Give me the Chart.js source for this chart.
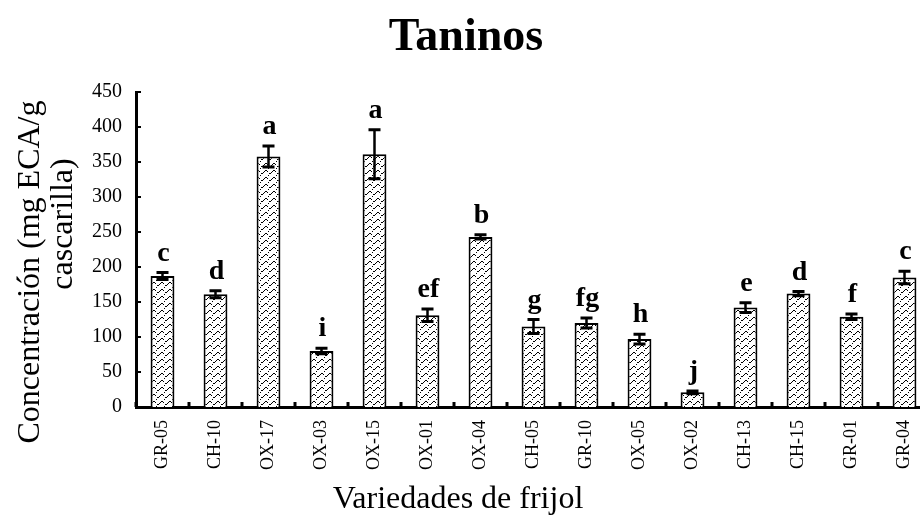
<!DOCTYPE html>
<html>
<head>
<meta charset="utf-8">
<script src="https://cdn.jsdelivr.net/npm/chart.js@4.4.1/dist/chart.umd.min.js"></script>
<style>
html,body{margin:0;padding:0;background:#fff;overflow:hidden;width:920px;height:523px;}
canvas{display:block;}
</style>
</head>
<body>
<canvas id="c" width="940" height="523"></canvas>
<script>
const categories = ['GR-05','CH-10','OX-17','OX-03','OX-15','OX-01','OX-04','CH-05','GR-10','OX-05','OX-02','CH-13','CH-15','GR-01','GR-04'];
const values = [187,161,358,80,361,131,243,115,120,97,21,142,162,129,185];
const errors = [5,5,15,4,35,9,3,10,7,7,2,7,3,4,9];
const letters = ['c','d','a','i','a','ef','b','g','fg','h','j','e','d','f','c'];
const yMin = 0, yMax = 450, yStep = 50;
const titleText = 'Taninos';
const yTitleLines = ['Concentración (mg ECA/g','cascarilla)'];
const xTitleText = 'Variedades de frijol';

const SERIF = "'Liberation Serif','Times New Roman',serif";

function makePattern(){
  const t = document.createElement('canvas');
  t.width = 8; t.height = 7;
  const g = t.getContext('2d');
  g.fillStyle = '#fff'; g.fillRect(0,0,8,7);
  g.fillStyle = '#000';
  const ys = [3,2,2,3,4,5,5,4];
  for (let x=0;x<8;x++){
    if (x===4) continue;
    g.fillRect(x, ys[x], 1, 1);
  }
  g.fillRect(4, 0, 1, 1);
  return document.getElementById('c').getContext('2d').createPattern(t,'repeat');
}

const overlay = {
  id:'overlay',
  afterDatasetsDraw(chart){
    const ctx = chart.ctx;
    const xs = chart.scales.x, ys = chart.scales.y;
    ctx.save();
    ctx.strokeStyle = '#000';
    ctx.lineCap = 'butt';
    values.forEach((v,i)=>{
      const cx = xs.getPixelForValue(i);
      const yt = ys.getPixelForValue(v+errors[i]);
      const yb = ys.getPixelForValue(v-errors[i]);
      ctx.lineWidth = 2.5;
      ctx.beginPath(); ctx.moveTo(cx,yt); ctx.lineTo(cx,yb); ctx.stroke();
      ctx.lineWidth = 3;
      ctx.beginPath(); ctx.moveTo(cx-6,yt); ctx.lineTo(cx+6,yt);
      ctx.moveTo(cx-6,yb); ctx.lineTo(cx+6,yb); ctx.stroke();
      ctx.fillStyle = '#000';
      ctx.font = 'bold 28px ' + SERIF;
      ctx.textAlign = 'center';
      ctx.textBaseline = 'alphabetic';
      ctx.fillText(letters[i], cx+1, yt-12);
    });
    const left = chart.chartArea.left, bottom = chart.chartArea.bottom;
    ctx.lineWidth = 2;
    for (let t=yMin; t<=yMax; t+=yStep){
      const y = ys.getPixelForValue(t);
      ctx.beginPath(); ctx.moveTo(left, y); ctx.lineTo(left+5, y); ctx.stroke();
    }
    ctx.lineWidth = 3;
    for (let i=0;i<=categories.length;i++){
      const x = xs.getPixelForValue(i-0.5);
      ctx.beginPath(); ctx.moveTo(x, bottom); ctx.lineTo(x, bottom-5); ctx.stroke();
    }
    ctx.fillStyle = '#000';
    ctx.textAlign = 'center';
    ctx.textBaseline = 'alphabetic';
    ctx.font = 'bold 46px ' + SERIF;
    ctx.fillText(titleText, 466, 50);
    ctx.font = '32px ' + SERIF;
    ctx.fillText(xTitleText, 458, 508);
    ctx.save();
    ctx.translate(39, 272); ctx.rotate(-Math.PI/2);
    ctx.fillText(yTitleLines[0], 0, 0);
    ctx.restore();
    ctx.save();
    ctx.translate(72, 224); ctx.rotate(-Math.PI/2);
    ctx.fillText(yTitleLines[1], 0, 0);
    ctx.restore();
    ctx.restore();
  }
};

new Chart(document.getElementById('c'), {
  type:'bar',
  data:{
    labels: categories,
    datasets:[{
      data: values,
      backgroundColor: makePattern(),
      borderColor:'#000',
      borderWidth:2,
      borderSkipped:'bottom',
      barPercentage:0.45,
      categoryPercentage:1
    }]
  },
  options:{
    responsive:false,
    animation:false,
    devicePixelRatio:1,
    layout:{padding:{top:92,right:9,left:0,bottom:0}},
    plugins:{legend:{display:false},tooltip:{enabled:false},title:{display:false}},
    scales:{
      x:{
        grid:{display:false,drawTicks:false},
        border:{display:true,color:'#000',width:3},
        ticks:{color:'#000',font:{family:SERIF,size:18},minRotation:90,maxRotation:90,autoSkip:false,padding:13},
        afterFit(s){ s.height = 116; }
      },
      y:{
        min:yMin,max:yMax,
        grid:{display:false,drawTicks:false},
        border:{display:true,color:'#000',width:3},
        ticks:{stepSize:yStep,color:'#000',font:{family:SERIF,size:20},padding:14},
        afterFit(s){ s.width = 136; }
      }
    }
  },
  plugins:[overlay]
});
</script>
</body>
</html>
